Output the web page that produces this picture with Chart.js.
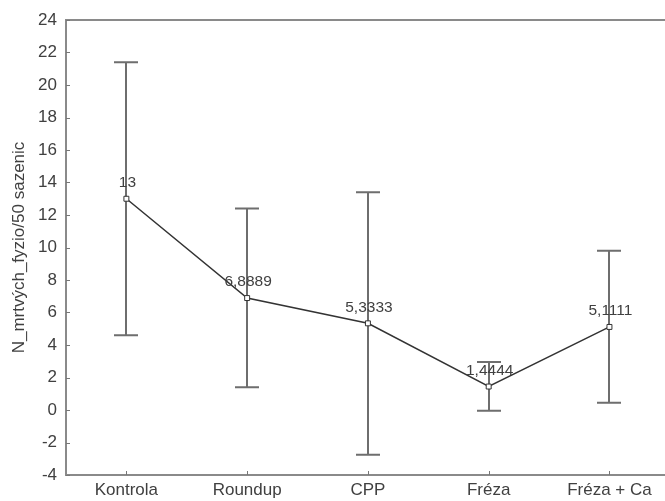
<!DOCTYPE html>
<html>
<head>
<meta charset="utf-8">
<script src="https://cdn.jsdelivr.net/npm/chart.js@4.4.1/dist/chart.umd.min.js"></script>
<style>
html,body{margin:0;padding:0;background:#fff;overflow:hidden;}
canvas{display:block;}
</style>
</head>
<body>
<canvas id="c" width="665" height="501" style="width:665px;height:501px"></canvas>
<script>
const categories = ["Kontrola", "Roundup", "CPP", "Fréza", "Fréza + Ca"];
const means = [13, 6.8889, 5.3333, 1.4444, 5.1111];
const meanLabels = ["13", "6,8889", "5,3333", "1,4444", "5,1111"];
const upper = [21.4, 12.4, 13.4, 2.95, 9.8];
const lower = [4.6, 1.4, -2.75, -0.05, 0.45];
const yTicks = [-4, -2, 0, 2, 4, 6, 8, 10, 12, 14, 16, 18, 20, 22, 24];
const yTitle = "N_mrtvých_fyzio/50 sazenic";

const FONT = '"Liberation Sans", Arial, sans-serif';
const TXT = '#404040';
const AX = '#8a8a8a';

const extras = {
  id: 'extras',
  beforeDatasetsDraw(chart) {
    const {ctx, chartArea: a, scales: {x, y}} = chart;
    ctx.save();
    ctx.strokeStyle = AX; ctx.lineWidth = 2;
    ctx.beginPath(); ctx.moveTo(a.left - 1, a.top); ctx.lineTo(chart.width, a.top); ctx.stroke();
    ctx.lineWidth = 1; ctx.strokeStyle = '#777';
    y.ticks.forEach(t => {
      const py = Math.round(y.getPixelForValue(t.value)) + 0.5;
      ctx.beginPath(); ctx.moveTo(a.left, py); ctx.lineTo(a.left + 4, py); ctx.stroke();
    });
    x.ticks.forEach(t => {
      const px = Math.round(x.getPixelForValue(t.value)) + 0.5;
      ctx.beginPath(); ctx.moveTo(px, a.bottom); ctx.lineTo(px, a.bottom - 4); ctx.stroke();
    });
    ctx.strokeStyle = '#6e6e6e'; ctx.lineWidth = 2;
    categories.forEach((c, i) => {
      const px = Math.round(x.getPixelForValue(i));
      const pt = y.getPixelForValue(upper[i]);
      const pb = y.getPixelForValue(lower[i]);
      ctx.beginPath();
      ctx.moveTo(px, pt); ctx.lineTo(px, pb);
      ctx.moveTo(px - 12, pt); ctx.lineTo(px + 12, pt);
      ctx.moveTo(px - 12, pb); ctx.lineTo(px + 12, pb);
      ctx.stroke();
    });
    ctx.restore();
  },
  afterDatasetsDraw(chart) {
    const {ctx, scales: {x, y}} = chart;
    ctx.save();
    ctx.font = '15.5px ' + FONT;
    ctx.fillStyle = TXT;
    ctx.textAlign = 'center'; ctx.textBaseline = 'middle';
    means.forEach((m, i) => {
      ctx.fillText(meanLabels[i], x.getPixelForValue(i) + 1, y.getPixelForValue(m) - 16);
    });
    ctx.restore();
  }
};

new Chart(document.getElementById('c'), {
  type: 'line',
  data: {
    datasets: [{
      data: means.map((m, i) => ({x: i, y: m})),
      borderColor: '#333',
      borderWidth: 1.5,
      tension: 0,
      pointStyle: 'rect',
      pointRadius: 3.5,
      pointBackgroundColor: '#fff',
      pointBorderColor: '#333',
      pointBorderWidth: 1
    }]
  },
  options: {
    responsive: false,
    maintainAspectRatio: false,
    animation: false,
    devicePixelRatio: 1,
    layout: {autoPadding: false, padding: {left: 0, right: 0, top: 20, bottom: 0}},
    plugins: {legend: {display: false}, tooltip: {enabled: false}},
    scales: {
      x: {
        type: 'linear',
        min: -0.5,
        max: 4.46,
        afterBuildTicks(s) { s.ticks = categories.map((c, i) => ({value: i})); },
        afterFit(s) { s.height = 26; s.paddingRight = 0; s.paddingLeft = 0; },
        grid: {display: false, drawTicks: false},
        border: {display: true, color: AX, width: 2},
        ticks: {
          padding: 5,
          maxRotation: 0,
          autoSkip: false,
          color: TXT,
          font: {family: FONT, size: 17},
          callback: (v) => categories[v] ?? ''
        }
      },
      y: {
        min: -4,
        max: 24,
        afterBuildTicks(s) { s.ticks = yTicks.map(v => ({value: v})); },
        afterFit(s) { s.width = 66; s.paddingTop = 0; s.paddingBottom = 0; },
        grid: {display: false, drawTicks: false},
        border: {display: true, color: AX, width: 2},
        ticks: {
          padding: 9,
          color: TXT,
          font: {family: FONT, size: 17},
          callback: (v) => String(v)
        },
        title: {
          display: true,
          text: yTitle,
          color: TXT,
          font: {family: FONT, size: 17},
          padding: {top: 9, bottom: 4}
        }
      }
    }
  },
  plugins: [extras]
});
</script>
</body>
</html>
